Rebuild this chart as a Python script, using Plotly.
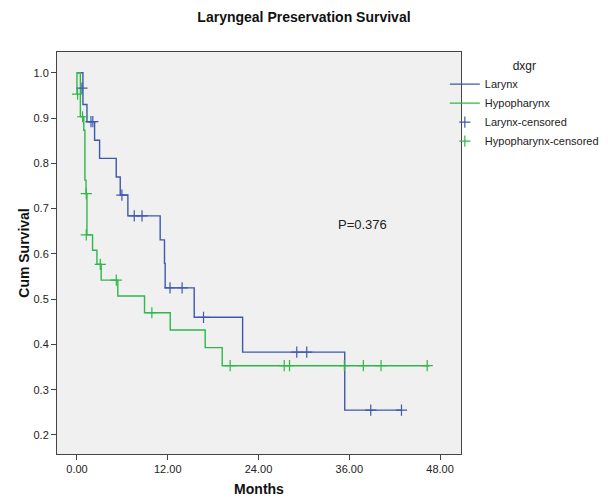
import plotly.graph_objects as go

# Larynx Kaplan-Meier steps (months, cumulative survival)
lar_time = [0, 0.79, 1.32, 2.33, 2.99, 5.19, 5.72, 6.73, 11.0, 11.57, 11.66, 15.5, 21.9, 35.4, 42.9]
lar_surv = [1.0, 0.930, 0.892, 0.851, 0.811, 0.770, 0.730, 0.684, 0.631, 0.579, 0.525, 0.460, 0.383, 0.255, 0.255]

# Hypopharynx Kaplan-Meier steps
hyp_time = [0, 0, 0.45, 0.9, 1.05, 1.2, 1.32, 2.06, 2.64, 3.2, 5.4, 8.93, 12.33, 16.95, 19.2, 46.6]
hyp_surv = [0.953, 1.0, 0.903, 0.873, 0.763, 0.733, 0.642, 0.608, 0.577, 0.542, 0.507, 0.470, 0.432, 0.393, 0.353, 0.353]

# Censored observations
lar_cens_time = [0.66, 1.85, 2.1, 5.94, 7.57, 8.6, 12.3, 13.9, 16.73, 29.06, 30.38, 38.84, 42.9]
lar_cens_surv = [0.966, 0.892, 0.892, 0.730, 0.684, 0.684, 0.525, 0.525, 0.460, 0.383, 0.383, 0.255, 0.255]
hyp_cens_time = [0.08, 0.74, 1.23, 1.23, 3.08, 5.2, 9.9, 20.25, 27.4, 28.1, 35.35, 37.86, 40.2, 46.3]
hyp_cens_surv = [0.953, 0.903, 0.733, 0.642, 0.577, 0.542, 0.470, 0.353, 0.353, 0.353, 0.353, 0.353, 0.353, 0.353]

x_ticks = [0, 12, 24, 36, 48]
x_tick_labels = ["0.00", "12.00", "24.00", "36.00", "48.00"]
y_ticks = [0.2, 0.3, 0.4, 0.5, 0.6, 0.7, 0.8, 0.9, 1.0]

BLUE = "#3E58AC"
GREEN = "#2EB848"
FONT = "Liberation Sans, Arial, sans-serif"

fig = go.Figure()
fig.add_trace(go.Scatter(x=lar_time, y=lar_surv, mode="lines", name="Larynx",
                         line=dict(color=BLUE, width=1.4, shape="hv")))
fig.add_trace(go.Scatter(x=hyp_time, y=hyp_surv, mode="lines", name="Hypopharynx",
                         line=dict(color=GREEN, width=1.4, shape="hv")))
fig.add_trace(go.Scatter(x=lar_cens_time, y=lar_cens_surv, mode="markers", name="Larynx-censored",
                         marker=dict(symbol="cross-thin-open", size=8, color=BLUE,
                                     line=dict(color=BLUE, width=1.2))))
fig.add_trace(go.Scatter(x=hyp_cens_time, y=hyp_cens_surv, mode="markers", name="Hypopharynx-censored",
                         marker=dict(symbol="cross-thin-open", size=8, color=GREEN,
                                     line=dict(color=GREEN, width=1.2))))

fig.add_annotation(x=37.8, y=0.664, text="P=0.376", showarrow=False,
                   font=dict(family=FONT, size=13, color="#222"))

axis_common = dict(showline=True, linecolor="#444", linewidth=1, mirror=True,
                   ticks="outside", ticklen=5, tickcolor="#444", showgrid=False,
                   zeroline=False, tickfont=dict(family=FONT, size=11, color="#222"))

fig.update_layout(
    width=600, height=492,
    paper_bgcolor="white", plot_bgcolor="#F0F0F0",
    margin=dict(l=49, r=147, t=44, b=46, autoexpand=False),
    title=dict(text="<b>Laryngeal Preservation Survival</b>", x=0.4933, xanchor="center",
               yref="container", y=0.9817, yanchor="middle",
               font=dict(family=FONT, size=14, color="#111")),
    xaxis=dict(range=[-2.64, 50.77], tickvals=x_ticks, ticktext=x_tick_labels,
               title=dict(text="<b>Months</b>", font=dict(family=FONT, size=14, color="#111"), standoff=9),
               **axis_common),
    yaxis=dict(range=[0.158, 1.046], tickvals=y_ticks, tickformat=".1f",
               title=dict(text="<b>Cum Survival</b>", font=dict(family=FONT, size=14, color="#111"), standoff=0),
               **axis_common),
    legend=dict(x=0.960, xanchor="left", y=0.995, yanchor="top",
                title=dict(text="dxgr", side="top center", font=dict(family=FONT, size=12, color="#222")),
                font=dict(family=FONT, size=11, color="#222"),
                bgcolor="rgba(0,0,0,0)", itemwidth=30, tracegroupgap=0),
    showlegend=True,
)

fig.write_html("out.html")
